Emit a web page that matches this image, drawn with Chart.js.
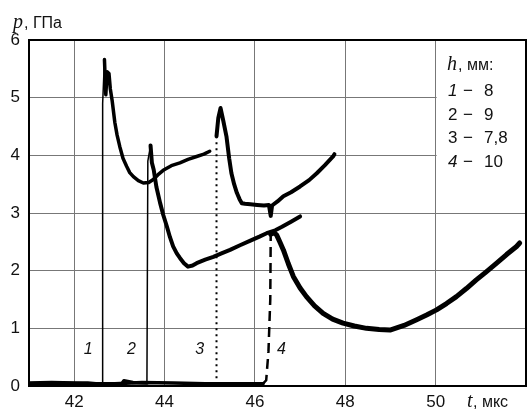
<!DOCTYPE html>
<html><head><meta charset="utf-8">
<script src="https://cdn.jsdelivr.net/npm/chart.js@4"></script>
<style>html,body{margin:0;padding:0;background:#fff}#wrap{width:529px;height:416px}</style>
</head><body><div id="wrap"><canvas id="c" width="529" height="416"></canvas></div>
<script>
// tick values
const xTicks = [42, 44, 46, 48, 50];
const yTicks = [0, 1, 2, 3, 4, 5, 6];

// curve 1 (h = 8 mm)
const base1 = [[41.0,0.05],[41.5,0.06],[42.0,0.05],[42.3,0.05],[42.6,0.03]];
const rise1 = [[42.6,0.03],[42.62,0.05],[42.63,4.9],[42.67,5.66]];
const main1 = [[42.67,5.66],[42.70,5.05],[42.73,5.45],[42.77,5.42],[42.80,5.15],[42.84,4.95],[42.90,4.57],[42.95,4.35],[43.01,4.15],[43.08,3.95],[43.16,3.81],[43.23,3.70],[43.31,3.63],[43.42,3.56],[43.53,3.52],[43.65,3.53],[43.75,3.58],[43.85,3.66],[43.97,3.74],[44.15,3.82],[44.34,3.87],[44.52,3.93],[44.71,3.98],[44.87,4.02],[45.0,4.07]];

// curve 2 (h = 9 mm)
const base2 = [[42.95,0.03],[43.05,0.03],[43.1,0.09],[43.3,0.06],[43.61,0.05]];
const rise2 = [[43.61,0.05],[43.63,3.9],[43.69,4.17]];
const main2 = [[43.69,4.17],[43.72,3.87],[43.76,3.75],[43.82,3.45],[43.90,3.18],[43.97,2.97],[44.05,2.77],[44.12,2.58],[44.19,2.42],[44.27,2.30],[44.34,2.22],[44.43,2.13],[44.52,2.07],[44.62,2.09],[44.71,2.13],[44.90,2.19],[45.08,2.24],[45.26,2.30],[45.45,2.36],[45.67,2.44],[45.9,2.52],[46.1,2.59],[46.26,2.65],[46.45,2.70],[46.6,2.76],[46.8,2.85],[47.0,2.94]];

// curve 3 (h = 7,8 mm)
const rise3 = [[45.15,0.03],[45.15,4.33]];
const main3 = [[45.15,4.33],[45.19,4.65],[45.24,4.82],[45.30,4.6],[45.37,4.33],[45.43,3.95],[45.48,3.69],[45.54,3.5],[45.60,3.35],[45.66,3.24],[45.71,3.17],[45.78,3.16],[45.9,3.15],[46.05,3.14],[46.2,3.13],[46.31,3.14],[46.35,2.95],[46.38,3.13],[46.5,3.2],[46.63,3.29],[46.8,3.36],[47.0,3.46],[47.2,3.57],[47.37,3.69],[47.55,3.83],[47.73,3.98],[47.76,4.02]];

// curve 4 (h = 10 mm)
const base4 = [[41.0,0.04],[41.6,0.05],[42.2,0.04],[42.9,0.04],[43.5,0.06],[44.2,0.05],[44.9,0.04],[45.6,0.04],[46.18,0.04]];
const rise4 = [[46.18,0.04],[46.25,0.1],[46.30,0.6],[46.34,1.5],[46.35,2.63]];
const main4 = [[46.35,2.63],[46.42,2.66],[46.48,2.62],[46.55,2.50],[46.63,2.36],[46.74,2.12],[46.85,1.90],[47.0,1.70],[47.14,1.55],[47.32,1.39],[47.51,1.26],[47.72,1.16],[47.95,1.09],[48.2,1.04],[48.47,1.00],[48.75,0.98],[48.99,0.97],[49.3,1.05],[49.58,1.15],[49.8,1.23],[50.02,1.32],[50.24,1.43],[50.46,1.55],[50.68,1.69],[50.9,1.84],[51.12,1.98],[51.35,2.13],[51.57,2.28],[51.79,2.42],[51.86,2.48]];

// curve number labels
const curveNums = ['1','2','3','4'];
const curveNumX = [42.31, 43.27, 44.78, 46.59];
const curveNumY = 0.63;

// legend
const legendNums = ['1','2','3','4'];
const legendVals = ['8','9','7,8','10'];

const pts = a => a.map(p => ({x:p[0], y:p[1]}));
const ds = (data, w, dash) => ({data: pts(data), showLine:true, borderColor:'#000', backgroundColor:'#000', borderWidth:w, borderDash:dash||[], pointRadius:0, tension:0, borderJoinStyle:'round', borderCapStyle: dash ? 'butt' : 'round'});

const deco = {
  id:'deco',
  beforeDatasetsDraw(chart){
    const {ctx, chartArea:a, scales:{x,y}} = chart;
    ctx.save();
    ctx.fillStyle = '#fff';
    const x0 = x.getPixelForValue(50) + 1;
    ctx.fillRect(x0, a.top, a.right - x0, y.getPixelForValue(3.75) - a.top);
    ctx.restore();
  },
  afterDatasetsDraw(chart){
    const {ctx, chartArea:a, scales:{x,y}} = chart;
    ctx.save();
    ctx.strokeStyle = '#000'; ctx.lineWidth = 2;
    ctx.strokeRect(a.left, a.top, a.right - a.left, a.bottom - a.top);
    ctx.fillStyle = '#111';
    ctx.textBaseline = 'middle'; ctx.textAlign = 'center';
    ctx.font = 'italic 16px "Liberation Sans"';
    curveNums.forEach((s,i) => ctx.fillText(s, x.getPixelForValue(curveNumX[i]), y.getPixelForValue(curveNumY)));
    // legend
    ctx.textAlign = 'left'; ctx.textBaseline = 'alphabetic';
    ctx.font = 'italic 20px "Liberation Serif"';
    ctx.fillText('h', 447, 70);
    ctx.font = '16px "Liberation Sans"';
    ctx.fillText(', мм:', 458, 70);
    const rows = [96, 120, 143, 167];
    legendNums.forEach((n,i) => {
      ctx.font = (i===0||i===3 ? 'italic ' : '') + '17px "Liberation Sans"';
      ctx.fillText(n, 448, rows[i]);
      ctx.font = '17px "Liberation Sans"';
      ctx.fillText('\u2212', 463, rows[i]);
      ctx.fillText(legendVals[i], 484, rows[i]);
    });
    // axis titles
    ctx.font = 'italic 20px "Liberation Serif"';
    ctx.fillText('p', 13, 28);
    ctx.font = '16px "Liberation Sans"';
    ctx.fillText(', ГПа', 24, 28);
    ctx.font = 'italic 20px "Liberation Serif"';
    ctx.fillText('t', 467, 407);
    ctx.font = '16px "Liberation Sans"';
    ctx.fillText(', мкс', 473, 407);
    ctx.restore();
  }
};

new Chart(document.getElementById('c'), {
  type:'scatter',
  data:{datasets:[
    ds(base4,3.5), ds(base1,3.5), ds(base2,3.5),
    ds(rise1,1.5), ds(main1,3.5),
    ds(rise2,1.5), ds(main2,4),
    ds(rise3,2,[2,4]), ds(main3,4),
    ds(rise4,2.5,[10,6]), ds(main4,5)
  ]},
  options:{
    responsive:false, animation:false, devicePixelRatio:1,
    layout:{padding:{left:0, right:3, top:40, bottom:0}},
    plugins:{legend:{display:false}, tooltip:{enabled:false}},
    scales:{
      x:{type:'linear', min:41, max:52,
        afterBuildTicks: s => { s.ticks = xTicks.map(v => ({value:v})); },
        afterFit: s => { s.height = 30; },
        grid:{color:'#777', lineWidth:1, drawTicks:false},
        border:{display:false},
        ticks:{font:{family:'Liberation Sans', size:17}, color:'#111', padding:6, maxRotation:0}
      },
      y:{type:'linear', min:0, max:6,
        afterBuildTicks: s => { s.ticks = yTicks.map(v => ({value:v})); },
        afterFit: s => { s.width = 29; },
        grid:{color:'#777', lineWidth:1, drawTicks:false},
        border:{display:false},
        ticks:{font:{family:'Liberation Sans', size:17}, color:'#111', padding:9}
      }
    }
  },
  plugins:[deco]
});
</script></body></html>
